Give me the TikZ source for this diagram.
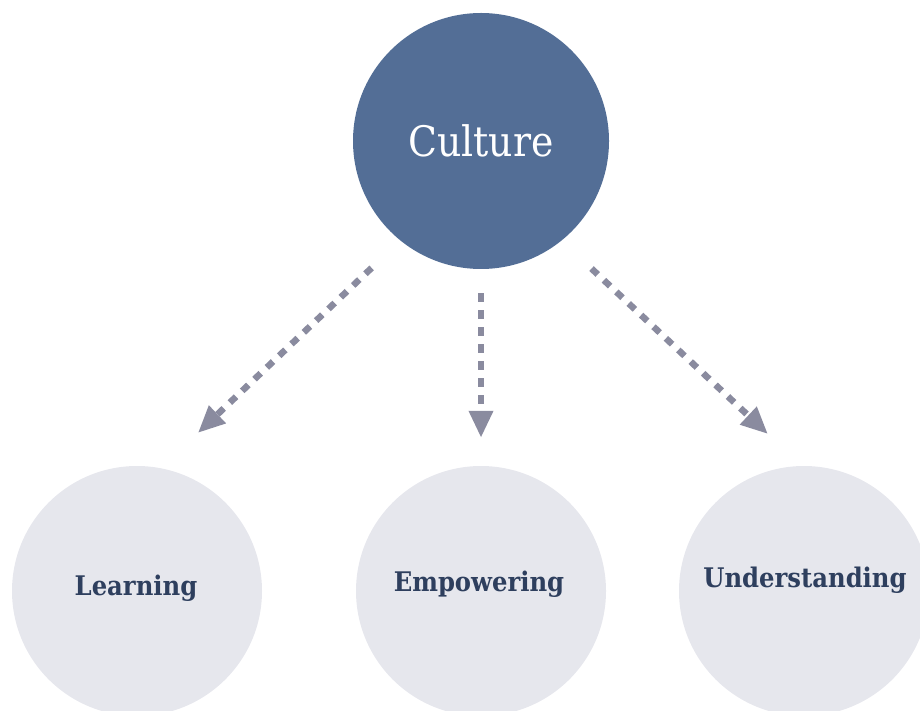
\documentclass[tikz,border=0pt]{standalone}
\usepackage{fontspec}
\setmainfont{DejaVu Serif}
\newfontfamily\labelfont{DejaVu Serif Condensed}
\usetikzlibrary{arrows.meta}
\definecolor{hubfill}{HTML}{536E96}
\definecolor{leaffill}{HTML}{E6E7ED}
\definecolor{leaftext}{HTML}{2E3F5E}
\definecolor{linkgray}{HTML}{8A8B9F}
\begin{document}
\begin{tikzpicture}[x=1pt,y=1pt,
  hub/.style={circle,fill=hubfill,minimum size=256pt,inner sep=0pt,
    text=white,font=\labelfont\fontsize{42}{48}\selectfont},
  leaf/.style={circle,fill=leaffill,minimum size=250pt,inner sep=0pt},
  leaflabel/.style={text=leaftext,font=\labelfont\bfseries\fontsize{27}{32}\selectfont},
  link/.style={draw=linkgray,line width=6.5pt,dash pattern=on 8.5pt off 8.5pt,
    -{Triangle[length=27pt,width=23pt]}}]
  \useasboundingbox (0,0) rectangle (920,710);
  % hub and the three outcomes
  \node[hub]  (cul) at (481,569) {Culture};
  \node[leaf] (lea) at (137,119) {};
  \node[leaf] (emp) at (481,119) {};
  \node[leaf] (und) at (804,119) {};
  \node[leaflabel] (leat) at (136,122) {Learning};
  \node[leaflabel] (empt) at (479,126) {Empowering};
  \node[leaflabel] (undt) at (805,130) {Understanding};
  % dotted links
  \draw[link,shorten <=39.6pt,shorten >=51.1pt] (cul.231.2) -- (lea.79.5);
  \draw[link,shorten <=24pt,shorten >=28pt] (cul.270) -- (emp.90);
  \draw[link,shorten <=40.9pt,shorten >=46.5pt] (cul.309.4) -- (und.91);
\end{tikzpicture}
\end{document}
